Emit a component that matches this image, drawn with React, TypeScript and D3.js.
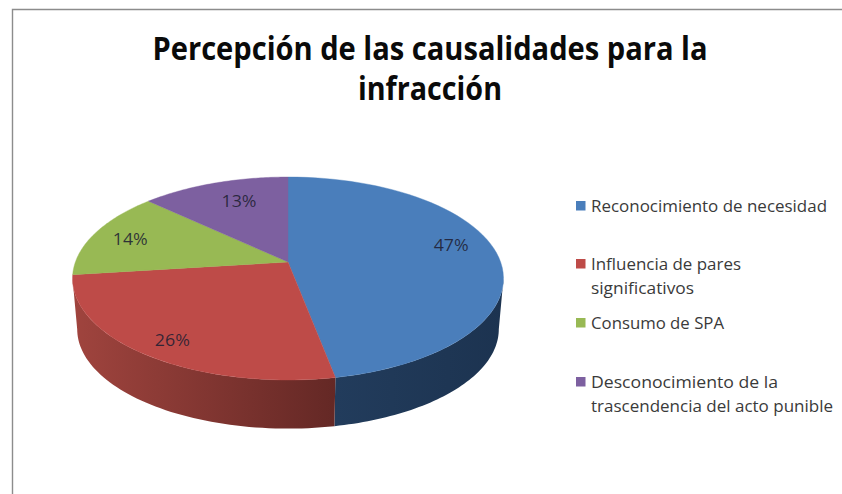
import React from "react";
import * as d3 from "d3";

const categories = [
  "Reconocimiento de necesidad",
  "Influencia de pares significativos",
  "Consumo de SPA",
  "Desconocimiento de la trascendencia del acto punible",
];
const values = [47, 26, 14, 13];
const topColors = ["#4a7ebb", "#be4b48", "#98b954", "#7d60a0"];
const sideFrom = ["#223c5c", "#642825", "#6f8a3c", "#5a4476"];
const sideTo = ["#1c3350", "#a0443e", "#6f8a3c", "#5a4476"];
const titleLines = ["Percepción de las causalidades para la", "infracción"];
const titleWidths = [555, 144];
const legendLines = [
  ["Reconocimiento de necesidad"],
  ["Influencia de pares", "significativos"],
  ["Consumo de SPA"],
  ["Desconocimiento de la", "trascendencia del acto punible"],
];
const legendWidths = [[236], [150, 103], [133], [187, 242]];
const legendY = [206, 264, 323, 382];
const labelNudge = [[0, -10], [-7, 8.5], [-6, 0], [10, 2]];

const K = 0.1626;
const topDisc = { cx: 288, cy: 262, a: 212.6, b: 98.8 };
const baseDisc = { cx: 288, cy: 313, a: 208, b: 96.8 };
const FONT = "'Open Sans', 'Noto Sans', sans-serif";

function project(disc: typeof topDisc, theta: number, r = 1): [number, number] {
  const u = Math.sin(theta) * r;
  const v = -Math.cos(theta) * r;
  const w = 1 - K * v;
  return [disc.cx + (disc.a * u) / w, disc.cy + (disc.b * v) / w];
}

const line = d3.line();
const samples = (a: number, b: number) => d3.range(0, 61).map((i) => a + ((b - a) * i) / 60);

export default function App() {
  const arcs = d3.pie<number>().sort(null)(values);
  const sideStart = Math.acos(-K);
  const sideEnd = 2 * Math.PI - sideStart;
  return (
    <svg width={842} height={494} style={{ position: "absolute", left: 0, top: 0, background: "#fff" }}>
      <defs>
        {arcs.map((d, i) => {
          const x0 = project(topDisc, d.startAngle)[0];
          const x1 = project(topDisc, Math.min(d.endAngle, sideEnd))[0];
          return (
            <linearGradient key={i} id={`side${i}`} gradientUnits="userSpaceOnUse" x1={i === 0 ? 335 : x0} x2={i === 0 ? 504 : x1} y1={0} y2={0}>
              <stop offset="0" stopColor={sideFrom[i]} />
              <stop offset="1" stopColor={sideTo[i]} />
            </linearGradient>
          );
        })}
      </defs>
      <path d="M12.5,494V9.5H842" fill="none" stroke="#8c8c8c" strokeWidth={1.4} />
      {titleLines.map((t, i) => (
        <text key={t} x={430} y={60 + i * 40} textAnchor="middle" fontFamily={FONT} fontWeight={700} fontSize={32}
          fill="#0a0a0a" textLength={titleWidths[i]} lengthAdjust="spacingAndGlyphs">{t}</text>
      ))}
      {arcs.map((d, i) => {
        const a = Math.max(d.startAngle, sideStart);
        const b = Math.min(d.endAngle, sideEnd);
        if (b <= a) return null;
        const pts = [
          ...samples(a, b).map((t) => project(topDisc, t)),
          ...samples(b, a).map((t) => project(baseDisc, t)),
        ];
        return <path key={i} d={line(pts) + "Z"} fill={`url(#side${i})`} />;
      })}
      {arcs.map((d, i) => {
        const pts: [number, number][] = [[topDisc.cx, topDisc.cy], ...samples(d.startAngle, d.endAngle).map((t) => project(topDisc, t))];
        return <path key={i} d={line(pts) + "Z"} fill={topColors[i]} stroke={topColors[i]} strokeWidth={0.4} />;
      })}
      {arcs.map((d, i) => {
        const [x, y] = project(topDisc, (d.startAngle + d.endAngle) / 2, 0.78);
        return (
          <text key={i} x={x + labelNudge[i][0]} y={y + labelNudge[i][1] + 6} textAnchor="middle" fontFamily={FONT}
            fontSize={16.5} fill="#1f1f33" fillOpacity={0.88} textLength={35} lengthAdjust="spacingAndGlyphs">{`${values[i]}%`}</text>
        );
      })}
      {categories.map((c, i) => (
        <g key={c}>
          <rect x={576} y={legendY[i] - 5} width={9.5} height={9.5} fill={topColors[i]} />
          {legendLines[i].map((t, j) => (
            <text key={t} x={591} y={legendY[i] + 6 + j * 24} fontFamily={FONT} fontSize={16.5} fill="#3a3a3a"
              textLength={legendWidths[i][j]} lengthAdjust="spacingAndGlyphs">{t}</text>
          ))}
        </g>
      ))}
    </svg>
  );
}
